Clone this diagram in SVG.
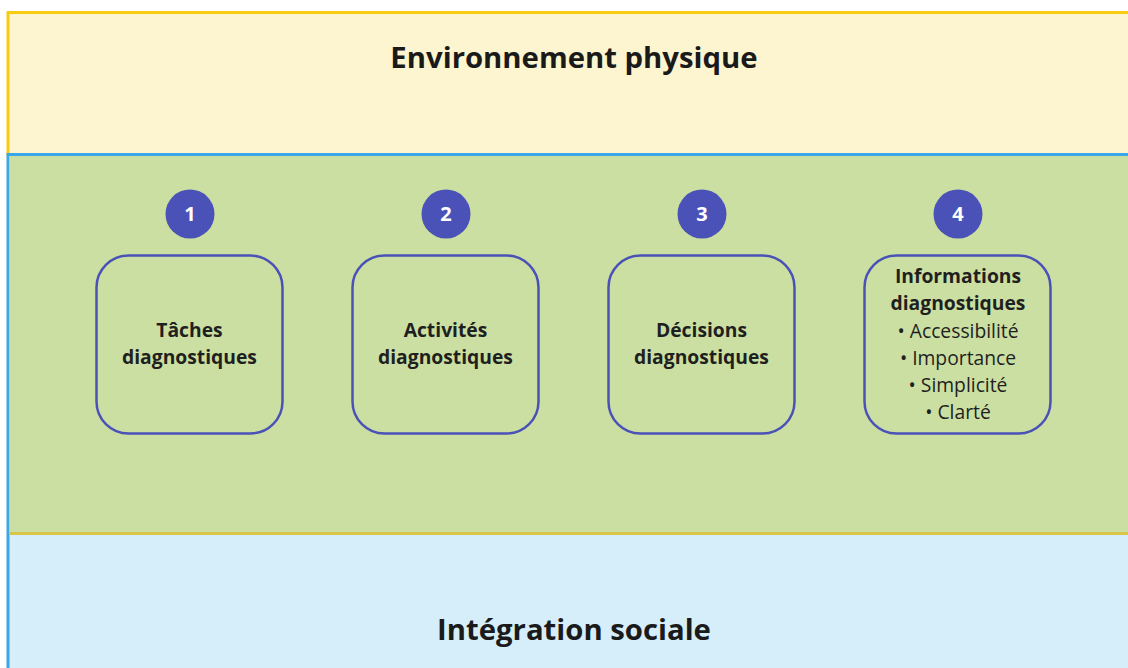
<svg xmlns="http://www.w3.org/2000/svg" width="1128" height="668" viewBox="0 0 1128 668">
<style>
.title{font-family:"Open Sans","Liberation Sans",sans-serif;font-weight:700;font-size:29.3px;fill:#1a1a1a;text-anchor:middle}
.lbl{font-family:"Open Sans","Liberation Sans",sans-serif;font-weight:700;font-size:19.3px;fill:#1f1f1f;text-anchor:middle}
.item{font-family:"Open Sans","Liberation Sans",sans-serif;font-weight:400;font-size:19.3px;fill:#1f1f1f;text-anchor:middle}
.num{font-family:"Open Sans","Liberation Sans",sans-serif;font-weight:700;font-size:20px;fill:#ffffff;text-anchor:middle}
.badge{fill:#4A52B8}
.box{fill:none;stroke:#4A52B8;stroke-width:2.5}
</style>
<rect width="1128" height="668" fill="#ffffff"/>
<g id="env">
<rect x="8" y="12.5" width="1130" height="142" fill="#FDF5CF" stroke="#F9CC12" stroke-width="3"/>
<text class="title" x="574" y="68">Environnement physique</text>
</g>
<g id="social">
<rect x="8" y="154.5" width="1130" height="530" fill="#D6EDFA" stroke="#3AA7E8" stroke-width="3"/>
<text class="title" x="574" y="640">Intégration sociale</text>
</g>
<g id="band">
<rect x="9.5" y="156" width="1130" height="377" fill="#CCDFA2"/>
<line x1="9.5" y1="533.5" x2="1128" y2="533.5" stroke="#D8C54A" stroke-width="3"/>
</g>
<g id="connectors"></g>
<g id="n1">
<circle class="badge" cx="190" cy="214" r="24.5"/>
<text class="num" x="190" y="221">1</text>
<rect class="box" x="96.5" y="255.5" width="186" height="178" rx="32"/>
<text class="lbl" x="189.5" y="337">Tâches</text>
<text class="lbl" x="189.5" y="364">diagnostiques</text>
</g>
<g id="n2">
<circle class="badge" cx="446" cy="214" r="24.5"/>
<text class="num" x="446" y="221">2</text>
<rect class="box" x="352.5" y="255.5" width="186" height="178" rx="32"/>
<text class="lbl" x="445.5" y="337">Activités</text>
<text class="lbl" x="445.5" y="364">diagnostiques</text>
</g>
<g id="n3">
<circle class="badge" cx="702" cy="214" r="24.5"/>
<text class="num" x="702" y="221">3</text>
<rect class="box" x="608.5" y="255.5" width="186" height="178" rx="32"/>
<text class="lbl" x="701.5" y="337">Décisions</text>
<text class="lbl" x="701.5" y="364">diagnostiques</text>
</g>
<g id="n4">
<circle class="badge" cx="958" cy="214" r="24.5"/>
<text class="num" x="958" y="221">4</text>
<rect class="box" x="864.5" y="255.5" width="186" height="178" rx="32"/>
<text class="lbl" x="958" y="283">Informations</text>
<text class="lbl" x="958" y="310">diagnostiques</text>
<text class="item" x="958" y="338">• Accessibilité</text>
<text class="item" x="958" y="365">• Importance</text>
<text class="item" x="958" y="392">• Simplicité</text>
<text class="item" x="958" y="419">• Clarté</text>
</g>
</svg>
